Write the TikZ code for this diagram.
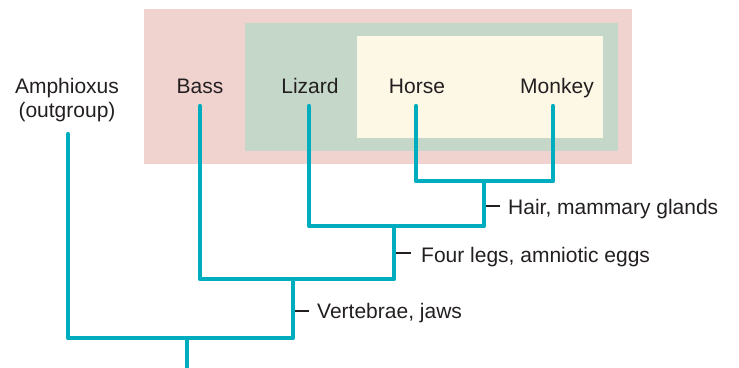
\documentclass[tikz,border=0pt]{standalone}
\usepackage{fontspec}
\setmainfont{Liberation Sans}
\definecolor{cladepink}{RGB}{240,211,207}
\definecolor{cladegreen}{RGB}{197,215,201}
\definecolor{cladecream}{RGB}{253,247,230}
\definecolor{treeteal}{RGB}{0,173,190}
\definecolor{inkgray}{RGB}{35,31,32}
\begin{document}
\begin{tikzpicture}[x=1pt,y=-1pt,
  taxon/.style={font=\fontsize{21}{24}\selectfont, text=inkgray, anchor=base, inner sep=0pt},
  trait/.style={font=\fontsize{21}{24}\selectfont, text=inkgray, anchor=base west, inner sep=0pt},
  branch/.style={draw=treeteal, line width=4.2pt, line cap=round, line join=round},
  tickmark/.style={draw=inkgray, line width=1.3pt}]
\useasboundingbox (0,0) rectangle (739,367);

% nested clades
\fill[cladepink]  (144,9)  rectangle (632,164);
\fill[cladegreen] (245,23) rectangle (618,151);
\fill[cladecream] (357,36) rectangle (603,138);

% taxa
\node[taxon] (amph) at (67,93)  {Amphioxus};
\node[taxon] (outg) at (67,117) {(outgroup)};
\node[taxon] (bass) at (200,93) {Bass};
\node[taxon] (lizard) at (310,93) {Lizard};
\node[taxon] (horse) at (417,93) {Horse};
\node[taxon] (monkey) at (557,93) {Monkey};

% branch tips and internal nodes
\coordinate (amphtip)  at (68,134);
\coordinate (basstip)  at (200,106);
\coordinate (liztip)   at (309,106);
\coordinate (horsetip) at (416,106);
\coordinate (monktip)  at (553,106);
\coordinate (n1) at (484,181);
\coordinate (n2) at (394,226);
\coordinate (n3) at (293,279);
\coordinate (n4) at (187,338);
\coordinate (root) at (187,372);

% tree
\draw[branch] (horsetip) |- (n1) -| (monktip);
\draw[branch] (liztip) |- (n1 |- n2) -- (n1);
\draw[branch] (basstip) |- (n2 |- n3) -- (n2);
\draw[branch] (amphtip) |- (n3 |- n4) -- (n3);
\draw[branch] (n4) -- (root);

% shared derived characters
\node[trait] (hair) at (508,214) {Hair, mammary glands};
\node[trait] (legs) at (421,262) {Four legs, amniotic eggs};
\node[trait] (jaws) at (317,318) {Vertebrae, jaws};
\coordinate (t1) at (486,206);
\coordinate (t2) at (396,253);
\coordinate (t3) at (295,311);
\draw[tickmark] (t1) -- ++(14,0);
\draw[tickmark] (t2) -- ++(15,0);
\draw[tickmark] (t3) -- ++(14,0);
\end{tikzpicture}
\end{document}
